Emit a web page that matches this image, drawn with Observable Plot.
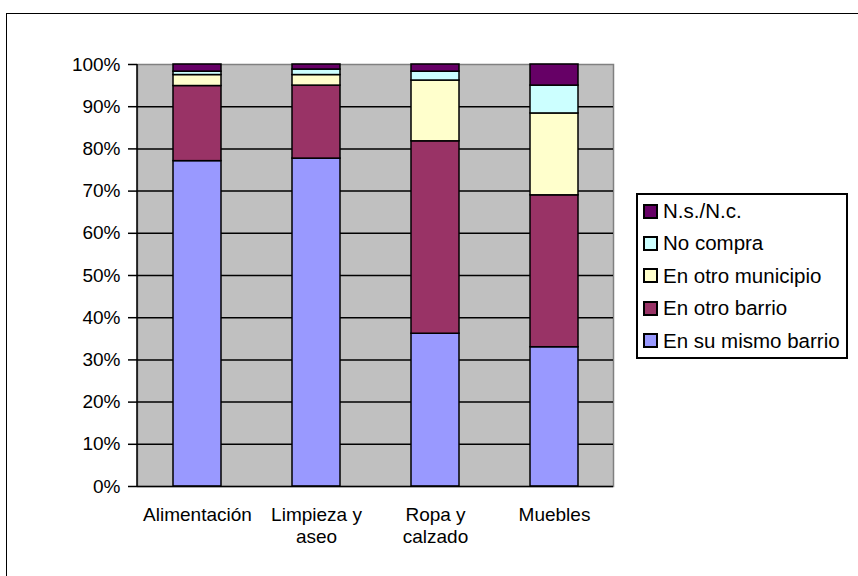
<!DOCTYPE html>
<html><head><meta charset="utf-8">
<script src="https://cdn.jsdelivr.net/npm/d3@7"></script>
<script src="https://cdn.jsdelivr.net/npm/@observablehq/plot@0.6"></script>
<style>
html,body{margin:0;padding:0;background:#fff;overflow:hidden;}
#wrap{position:relative;width:858px;height:576px;overflow:hidden;font-family:"Liberation Sans",Arial,sans-serif;}
#border{position:absolute;left:6px;top:13px;width:900px;height:700px;border:1.5px solid #000;}
#chart{position:absolute;left:0;top:0;}
#legend{position:absolute;left:636px;top:193px;width:212px;height:166px;border:2px solid #000;background:#fff;box-sizing:border-box;}
.item{position:absolute;left:5px;height:20px;display:flex;align-items:center;font-size:20.5px;color:#000;white-space:nowrap;}
.sw{width:11px;height:11px;border:2px solid #000;margin-right:5px;flex:none;}
</style>
</head><body>
<div id="wrap"><div id="border"></div><div id="chart"></div><div id="legend"></div></div>
<script>
const categories = ["Alimentación", "Limpieza y aseo", "Ropa y calzado", "Muebles"];
const categoryLabels = ["Alimentación", "Limpieza y\naseo", "Ropa y\ncalzado", "Muebles"];
const series = ["En su mismo barrio", "En otro barrio", "En otro municipio", "No compra", "N.s./N.c."];
const enSuMismoBarrio = [77.1, 77.7, 36.2, 33.0];
const enOtroBarrio = [17.8, 17.3, 45.6, 36.0];
const enOtroMunicipio = [2.6, 2.5, 14.4, 19.4];
const noCompra = [0.8, 1.3, 2.1, 6.6];
const nsnc = [1.7, 1.2, 1.7, 5.0];
const colors = ["#9999FF", "#993366", "#FFFFCC", "#CCFFFF", "#660066"];
const yTicks = [0, 10, 20, 30, 40, 50, 60, 70, 80, 90, 100];

const seriesValues = [enSuMismoBarrio, enOtroBarrio, enOtroMunicipio, noCompra, nsnc];
const data = [];
categories.forEach((c, i) => {
  series.forEach((s, j) => data.push({cat: c, series: s, value: seriesValues[j][i]}));
});

const leftLine = (index, scales, values, dim) => {
  const g = document.createElementNS("http://www.w3.org/2000/svg", "line");
  g.setAttribute("x1", dim.marginLeft); g.setAttribute("x2", dim.marginLeft);
  g.setAttribute("y1", dim.marginTop); g.setAttribute("y2", dim.height - dim.marginBottom);
  g.setAttribute("stroke", "#000"); g.setAttribute("stroke-width", 1.5);
  return g;
};

const chart = Plot.plot({
  width: 858, height: 576,
  marginLeft: 137, marginRight: 245, marginTop: 64, marginBottom: 90,
  style: {fontFamily: "'Liberation Sans', Arial, sans-serif", fontSize: "19px", background: "transparent", color: "#000"},
  x: {domain: categories, paddingInner: 0.6, paddingOuter: 0.3},
  y: {domain: [0, 100]},
  color: {domain: series, range: colors},
  marks: [
    Plot.frame({fill: "#C0C0C0", stroke: "#808080", strokeWidth: 1.5}),
    Plot.gridY(yTicks.filter(v => v > 0 && v < 100), {stroke: "#000", strokeOpacity: 1, strokeWidth: 1.5}),
    Plot.barY(data, Plot.stackY({x: "cat", y: "value", fill: "series", stroke: "#000", strokeWidth: 1.5, order: series})),
    Plot.ruleY([0], {stroke: "#000", strokeWidth: 1.5}),
    leftLine,
    Plot.axisY({ticks: yTicks, tickFormat: d => d + "%", tickSize: 9, tickPadding: 8, label: null, fontSize: 19, strokeWidth: 1.5}),
    Plot.axisX({tickSize: 0, tickPadding: 19, label: null, fontSize: 19, lineHeight: 1.15,
      tickFormat: d => categoryLabels[categories.indexOf(d)]})
  ]
});
document.getElementById("chart").appendChild(chart);

const legend = document.getElementById("legend");
series.slice().reverse().forEach((s, k) => {
  const j = series.indexOf(s);
  const it = document.createElement("div");
  it.className = "item";
  it.style.top = (6 + k * 32.4) + "px";
  const sw = document.createElement("span");
  sw.className = "sw"; sw.style.background = colors[j];
  const t = document.createElement("span"); t.textContent = s;
  it.appendChild(sw); it.appendChild(t);
  legend.appendChild(it);
});
</script>
</body></html>
